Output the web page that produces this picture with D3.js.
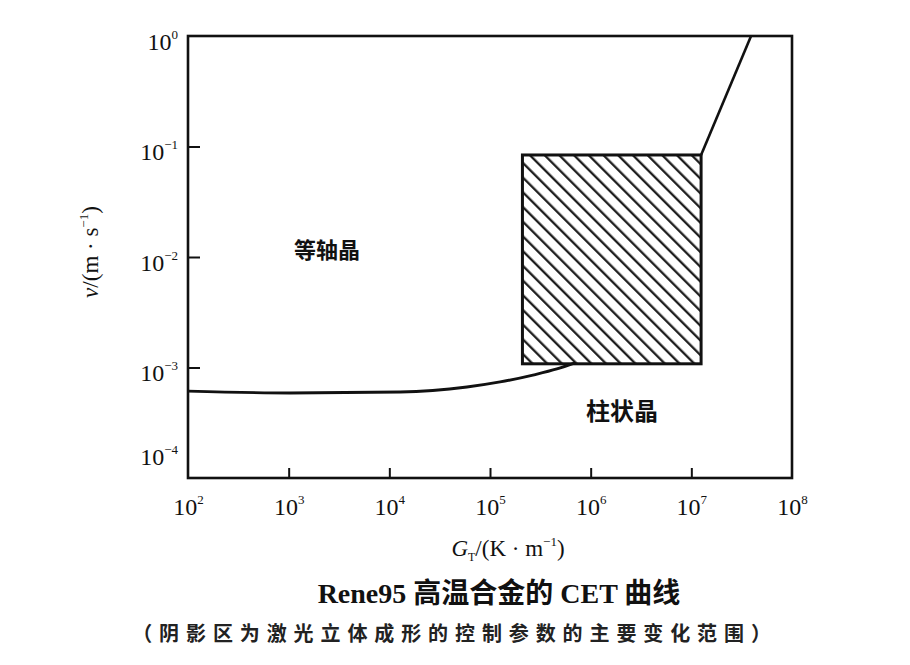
<!DOCTYPE html>
<html><head><meta charset="utf-8">
<script src="https://cdn.jsdelivr.net/npm/d3@7"></script>
<style>body{margin:0;background:#fff}</style>
</head><body>
<svg id="c" width="910" height="665"></svg>
<script>
// ---- data ----
const xTicks = [1e2, 1e3, 1e4, 1e5, 1e6, 1e7, 1e8];
const xExp = ["2","3","4","5","6","7","8"];
const yTicks = [1e0, 1e-1, 1e-2, 1e-3, 1e-4];
const yExp = ["0","\u22121","\u22122","\u22123","\u22124"];
// CET boundary curve (G, v)
const curveG = [1e2, 1.03e3, 1.28e4, 5.9e4, 1.26e5, 2.67e5, 4.62e5, 6.98e5];
const curveV = [6.12e-4, 5.88e-4, 6.0e-4, 6.66e-4, 7.4e-4, 8.55e-4, 9.7e-4, 1.1e-3];
// upper boundary segment
const lineG = [1.25e7, 3.92e7];
const lineV = [0.0838, 1.0];
// shaded region (G range, v range)
const boxG = [2.1e5, 1.25e7];
const boxV = [1.08e-3, 0.0838];
const regionLabels = ["等轴晶", "柱状晶"];
const regionG = [2.4e3, 2.05e6];
const regionV = [0.0112, 3.87e-4];
const title = "Rene95 高温合金的 CET 曲线";
const subtitle = "（阴影区为激光立体成形的控制参数的主要变化范围）";

// ---- layout ----
const L = 188, R = 792, T = 36, B = 478;
const svg = d3.select("#c");
const x = d3.scaleLog().domain([1e2, 1e8]).range([L, R]);
const y = d3.scaleLog().domain([1e-4, 1e0]).range([B, T]);
const serif = "'Liberation Serif','Times New Roman',serif";

// hatch pattern
const defs = svg.append("defs");
const pat = defs.append("pattern").attr("id","hatch").attr("patternUnits","userSpaceOnUse")
  .attr("width",10.4).attr("height",10.4).attr("patternTransform","rotate(-45)");
pat.append("line").attr("x1",5).attr("y1",-2).attr("x2",5).attr("y2",13)
  .attr("stroke","#111").attr("stroke-width",2.2);

// axes
const xAxis = svg.append("g").attr("transform",`translate(0,${B})`)
  .call(d3.axisBottom(x).tickValues(xTicks).tickSizeInner(-10).tickSizeOuter(0).tickPadding(20).tickFormat(""));
xAxis.select(".domain").remove();
xAxis.selectAll(".tick line").attr("stroke","#111").attr("stroke-width",2)
  .filter((d,i)=> i===0 || i===xTicks.length-1).remove();
xAxis.selectAll(".tick text").each(function(d,i){
  const t = d3.select(this).attr("font-family",serif).attr("font-size",24).attr("fill","#111")
    .attr("dy","0").attr("y",37);
  t.text("10");
  t.append("tspan").attr("font-size",13).attr("dy",-11).text(xExp[i]);
});

const yAxis = svg.append("g").attr("transform",`translate(${L},0)`)
  .call(d3.axisLeft(y).tickValues(yTicks).tickSizeInner(-12).tickSizeOuter(0).tickPadding(10).tickFormat(""));
yAxis.select(".domain").remove();
yAxis.selectAll(".tick line").attr("stroke","#111").attr("stroke-width",2)
  .filter((d,i)=> i===0 || i===yTicks.length-1).remove();
yAxis.selectAll(".tick text").each(function(d,i){
  const t = d3.select(this).attr("font-family",serif).attr("font-size",24).attr("fill","#111")
    .attr("dy", i===yTicks.length-1 ? "-14" : "0.55em");
  t.text("10");
  t.append("tspan").attr("font-size",13).attr("dy",-11).text(yExp[i]);
});

// frame
svg.append("rect").attr("x",L).attr("y",T).attr("width",R-L).attr("height",B-T)
  .attr("fill","none").attr("stroke","#111").attr("stroke-width",2.6);

// shaded box
svg.append("rect").attr("x",x(boxG[0])).attr("y",y(boxV[1]))
  .attr("width",x(boxG[1])-x(boxG[0])).attr("height",y(boxV[0])-y(boxV[1]))
  .attr("fill","url(#hatch)").attr("stroke","#111").attr("stroke-width",3);

// curve
const pts = curveG.map((g,i)=>[g, curveV[i]]);
svg.append("path").datum(pts)
  .attr("d", d3.line().x(d=>x(d[0])).y(d=>y(d[1])).curve(d3.curveMonotoneX))
  .attr("fill","none").attr("stroke","#111").attr("stroke-width",2.8);
svg.append("path").datum(lineG.map((g,i)=>[g,lineV[i]]))
  .attr("d", d3.line().x(d=>x(d[0])).y(d=>y(d[1])))
  .attr("fill","none").attr("stroke","#111").attr("stroke-width",2.6);

// region labels
svg.selectAll("text.reg").data(regionLabels).enter().append("text").attr("class","reg")
  .attr("x",(d,i)=>x(regionG[i])).attr("y",(d,i)=>y(regionV[i]))
  .attr("text-anchor","middle").attr("dominant-baseline","middle")
  .attr("font-family","'Noto Sans CJK SC',sans-serif").attr("font-weight","bold")
  .attr("font-size",(d,i)=> i===0 ? 22 : 24).attr("fill","#111").text(d=>d);

// axis titles
const xt = svg.append("text").attr("x",508).attr("y",556).attr("text-anchor","middle")
  .attr("font-family",serif).attr("font-size",23).attr("fill","#111");
xt.append("tspan").attr("font-style","italic").text("G");
xt.append("tspan").attr("font-size",12).attr("dy",5).text("T");
xt.append("tspan").attr("dy",-5).text("/(K · m");
xt.append("tspan").attr("font-size",13).attr("dy",-10).text("\u22121");
xt.append("tspan").attr("dy",10).text(")");

const yt = svg.append("text").attr("transform","translate(98,252) rotate(-90)").attr("text-anchor","middle")
  .attr("font-family",serif).attr("font-size",23).attr("fill","#111");
yt.append("tspan").attr("font-style","italic").text("v");
yt.append("tspan").text("/(m · s");
yt.append("tspan").attr("font-size",13).attr("dy",-10).text("\u22121");
yt.append("tspan").attr("dy",10).text(")");

// titles
svg.append("text").attr("x",499).attr("y",603).attr("text-anchor","middle")
  .attr("font-family","'Liberation Serif','Noto Sans CJK SC',serif").attr("font-weight","bold")
  .attr("font-size",28).attr("fill","#111").text(title);
svg.append("text").attr("x",455).attr("y",641).attr("text-anchor","middle")
  .attr("font-family","'Noto Sans CJK SC',sans-serif").attr("font-weight","bold")
  .attr("font-size",20).attr("letter-spacing",6.9).attr("fill","#222").text(subtitle);
</script>
</body></html>
